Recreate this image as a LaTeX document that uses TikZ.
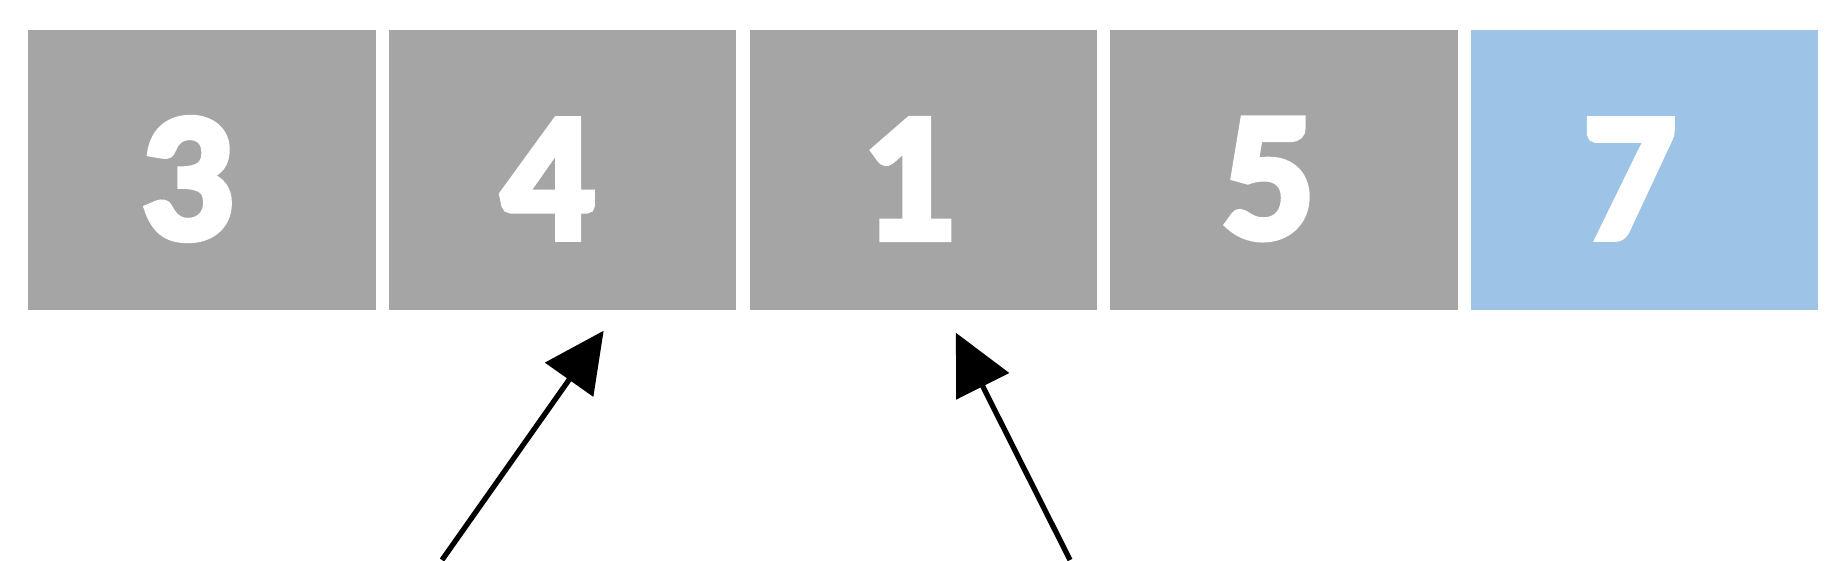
\documentclass[tikz,border=0pt]{standalone}
\usepackage{fontspec}
\usepackage{tikz}
\usetikzlibrary{positioning}
\usetikzlibrary{arrows.meta}

\newfontfamily\numfont{Carlito Bold}[FakeBold=4]
\definecolor{cellgray}{HTML}{A5A5A5}
\definecolor{cellblue}{HTML}{9DC3E6}

\begin{document}
\begin{tikzpicture}[
    cell/.style={minimum width=3.4725cm,minimum height=2.8cm,inner sep=0pt,fill=cellgray},
    num/.style={text=white,inner sep=0pt,font=\numfont\fontsize{52}{56}\selectfont},
    pointer/.style={-{Triangle[length=6mm,width=5.8mm]},line width=1.5pt},
    node distance=1.2mm]
  % Boundary
  \path[use as bounding box] (0,0) rectangle (18.39,5.60);
  % Cells
  \node[cell] (c1) at (2.02,3.90) {};
  \node[cell,right=of c1] (c2) {};
  \node[cell,right=of c2] (c3) {};
  \node[cell,right=of c3] (c4) {};
  \node[cell,right=of c4,fill=cellblue] (c5) {};
  % Values
  \foreach \i/\v in {1/3,2/4,3/1,4/5,5/7}
    \node[num] (n\i) at ([xshift=-1.5mm,yshift=-0.9mm]c\i.center) {\v};
  % Pointers
  \coordinate (p1) at (4.42,0);
  \coordinate (h1) at ([xshift=4.1mm,yshift=-2mm]c2.south);
  \coordinate (p2) at (10.70,0);
  \coordinate (h2) at ([xshift=3.25mm,yshift=-2.2mm]c3.south);
  \draw[pointer] (p1) -- (h1);
  \draw[pointer] (p2) -- (h2);
\end{tikzpicture}
\end{document}
